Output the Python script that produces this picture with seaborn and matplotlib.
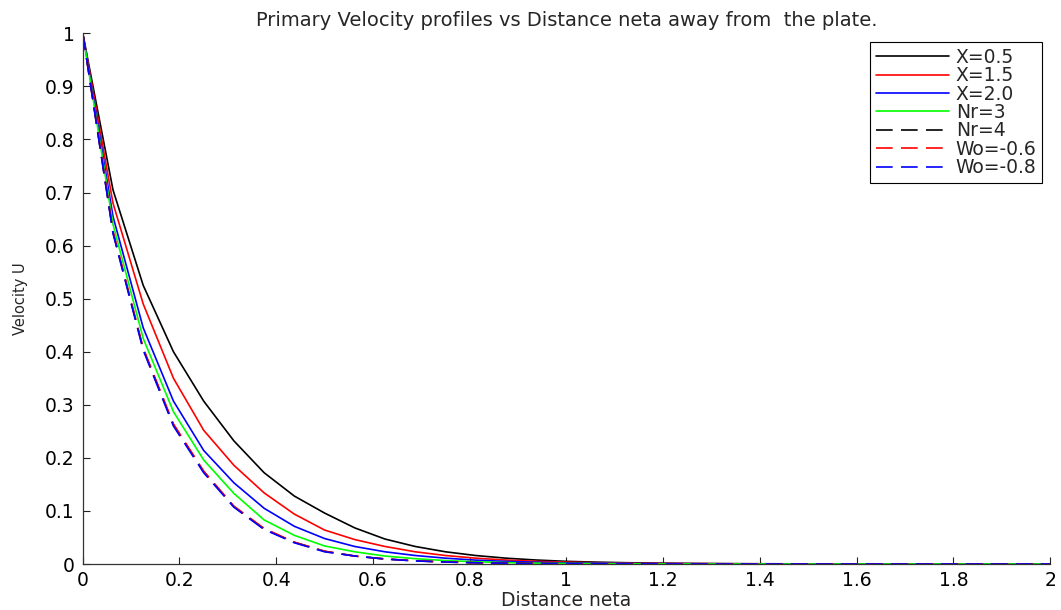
import numpy as np
import pandas as pd
import matplotlib
matplotlib.use("Agg")
import matplotlib.pyplot as plt
import seaborn as sns

# ---- data ----
eta = [0.0, 0.0625, 0.125, 0.1875, 0.25, 0.3125, 0.375, 0.4375, 0.5, 0.5625,
       0.625, 0.6875, 0.75, 0.8125, 0.875, 0.9375, 1.0, 1.0625, 1.125, 1.1875,
       1.25, 1.3125, 1.375, 1.4375, 1.5, 1.5625, 1.625, 1.6875, 1.75, 1.8125,
       1.875, 1.9375, 2.0]

u_x05 = [1.000, 0.705, 0.525, 0.400, 0.307, 0.232, 0.172, 0.128, 0.096, 0.068,
         0.047, 0.033, 0.023, 0.016, 0.011, 0.0075, 0.0050, 0.0035, 0.0024, 0.0016,
         0.0011, 0.0008, 0.0005, 0.0004, 0.0003, 0.0002, 0.0001, 0.0001, 0.0, 0.0,
         0.0, 0.0, 0.0]
u_x15 = [1.000, 0.680, 0.490, 0.350, 0.252, 0.186, 0.134, 0.094, 0.064, 0.046,
         0.033, 0.023, 0.016, 0.011, 0.0075, 0.0050, 0.0035, 0.0024, 0.0016, 0.0011,
         0.0008, 0.0005, 0.0004, 0.0003, 0.0002, 0.0001, 0.0001, 0.0, 0.0, 0.0,
         0.0, 0.0, 0.0]
u_x20 = [1.000, 0.655, 0.445, 0.307, 0.214, 0.153, 0.105, 0.071, 0.048, 0.033,
         0.023, 0.016, 0.011, 0.0073, 0.0049, 0.0033, 0.0022, 0.0015, 0.0010, 0.0007,
         0.0005, 0.0003, 0.0002, 0.0001, 0.0001, 0.0, 0.0, 0.0, 0.0, 0.0,
         0.0, 0.0, 0.0]
u_nr3 = [1.000, 0.640, 0.425, 0.287, 0.196, 0.133, 0.083, 0.054, 0.034, 0.023,
         0.015, 0.010, 0.0065, 0.0042, 0.0027, 0.0017, 0.0011, 0.0007, 0.0005, 0.0003,
         0.0002, 0.0001, 0.0001, 0.0, 0.0, 0.0, 0.0, 0.0, 0.0, 0.0,
         0.0, 0.0, 0.0]
u_nr4 = [1.000, 0.625, 0.405, 0.262, 0.174, 0.108, 0.066, 0.041, 0.024, 0.015,
         0.0095, 0.006, 0.0038, 0.0024, 0.0015, 0.0010, 0.0006, 0.0004, 0.0002, 0.0001,
         0.0001, 0.0, 0.0, 0.0, 0.0, 0.0, 0.0, 0.0, 0.0, 0.0,
         0.0, 0.0, 0.0]
u_wo06 = [1.000, 0.627, 0.407, 0.264, 0.175, 0.109, 0.067, 0.041, 0.024, 0.015,
          0.0095, 0.006, 0.0038, 0.0024, 0.0015, 0.0010, 0.0006, 0.0004, 0.0002, 0.0001,
          0.0001, 0.0, 0.0, 0.0, 0.0, 0.0, 0.0, 0.0, 0.0, 0.0,
          0.0, 0.0, 0.0]
u_wo08 = [1.000, 0.623, 0.403, 0.260, 0.172, 0.107, 0.065, 0.040, 0.023, 0.015,
          0.0093, 0.0058, 0.0037, 0.0023, 0.0014, 0.0009, 0.0006, 0.0004, 0.0002, 0.0001,
          0.0001, 0.0, 0.0, 0.0, 0.0, 0.0, 0.0, 0.0, 0.0, 0.0,
          0.0, 0.0, 0.0]

series_labels = ["X=0.5", "X=1.5", "X=2.0", "Nr=3", "Nr=4", "Wo=-0.6", "Wo=-0.8"]
series_values = [u_x05, u_x15, u_x20, u_nr3, u_nr4, u_wo06, u_wo08]

xtick_vals = [0, 0.2, 0.4, 0.6, 0.8, 1.0, 1.2, 1.4, 1.6, 1.8, 2.0]
xtick_labels = ["0", "0.2", "0.4", "0.6", "0.8", "1", "1.2", "1.4", "1.6", "1.8", "2"]
ytick_vals = [0, 0.1, 0.2, 0.3, 0.4, 0.5, 0.6, 0.7, 0.8, 0.9, 1.0]
ytick_labels = ["0", "0.1", "0.2", "0.3", "0.4", "0.5", "0.6", "0.7", "0.8", "0.9", "1"]

# ---- styling ----
colors = ["#000000", "#ff0000", "#0000ff", "#00ff00", "#000000", "#ff0000", "#0000ff"]
dashed = [False, False, False, False, True, True, True]

sns.set_style("ticks")
plt.rcParams["font.family"] = ["DejaVu Sans"]

fig = plt.figure(figsize=(10.61, 6.10), dpi=100)
ax = fig.add_axes([0.078, 0.0754, 0.9117, 0.870])

df = pd.DataFrame({"eta": eta})
for lab, vals in zip(series_labels, series_values):
    df[lab] = vals

for lab, col, dsh in zip(series_labels, colors, dashed):
    kw = dict(linestyle=(0, (10, 5))) if dsh else dict(linestyle="-")
    sns.lineplot(data=df, x="eta", y=lab, ax=ax, color=col, linewidth=1.2,
                 label=lab, errorbar=None, **kw)

ax.set_xlim(0, 2)
ax.set_ylim(0, 1)
ax.set_xticks(xtick_vals)
ax.set_xticklabels(xtick_labels)
ax.set_yticks(ytick_vals)
ax.set_yticklabels(ytick_labels)
ax.tick_params(axis="both", direction="in", length=5, width=0.8, colors="#222222",
               labelsize=13.5, labelcolor="black")
ax.tick_params(axis="x", pad=5)
ax.tick_params(axis="y", pad=6)
sns.despine(ax=ax)
for s in ("left", "bottom"):
    ax.spines[s].set_color("#333333")
    ax.spines[s].set_linewidth(0.9)

ax.set_xlabel("Distance neta", fontsize=13.5, labelpad=1)
ax.set_ylabel("Velocity U", fontsize=10.5, labelpad=12)
ax.set_title("Primary Velocity profiles vs Distance neta away from  the plate.",
             fontsize=14, pad=5)

leg = ax.legend(loc="upper right", bbox_to_anchor=(0.9918, 0.9836), borderaxespad=0,
                frameon=True, fancybox=False, edgecolor="black", framealpha=1,
                fontsize=13.5, handlelength=3.9, handletextpad=0.35,
                labelspacing=-0.03, borderpad=0.3)
leg.get_frame().set_linewidth(0.8)

fig.savefig("out.png", dpi=100)
